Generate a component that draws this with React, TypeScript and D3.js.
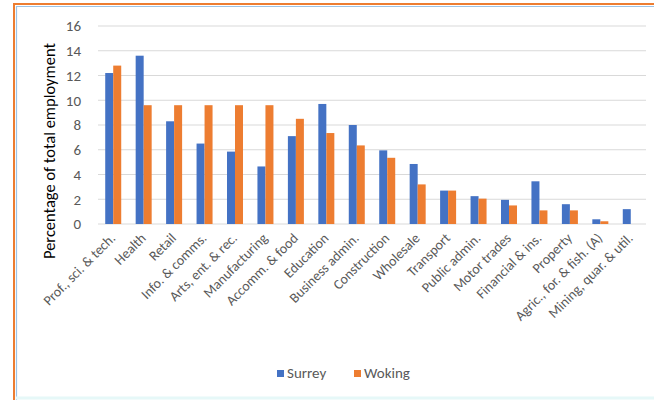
import React from 'react';
import * as d3 from 'd3';

const categories = [
  'Prof., sci. & tech.', 'Health', 'Retail', 'Info. & comms.', 'Arts, ent. & rec.',
  'Manufacturing', 'Accomm. & food', 'Education', 'Business admin.', 'Construction',
  'Wholesale', 'Transport', 'Public admin.', 'Motor trades', 'Financial & ins.',
  'Property', 'Agric., for. & fish. (A)', 'Mining, quar. & util.'
];
const seriesNames = ['Surrey', 'Woking'];
const surrey = [12.2, 13.6, 8.3, 6.5, 5.85, 4.65, 7.1, 9.7, 8.0, 5.95, 4.85, 2.7, 2.25, 1.95, 3.45, 1.6, 0.38, 1.2];
const woking = [12.8, 9.6, 9.6, 9.6, 9.6, 9.6, 8.5, 7.35, 6.35, 5.35, 3.2, 2.7, 2.05, 1.5, 1.1, 1.1, 0.22, 0];
const yTicks = [0, 2, 4, 6, 8, 10, 12, 14, 16];
const colors = ['#4472C4', '#ED7D31'];

const FONT = 'Carlito, Lato, sans-serif';
const TXT = '#595959';

export default function App() {
  const width = 654, height = 400;
  const plot = { left: 98, right: 646, top: 26, bottom: 224 };

  const x = d3.scaleBand<string>().domain(categories).range([plot.left, plot.right]);
  const xs = d3.scaleBand<string>().domain(seriesNames)
    .range([(x.bandwidth() - 16) / 2, (x.bandwidth() + 16) / 2]);
  const y = d3.scaleLinear().domain([0, 16]).range([plot.bottom, plot.top]);

  const rows = categories.map((c, i) => ({ c, vals: [surrey[i], woking[i]] }));

  return (
    <svg width={width} height={height} style={{ position: 'absolute', left: 0, top: 0, background: '#fff' }}>
      {/* frame */}
      <line x1={14} x2={14} y1={3} y2={400} stroke="#ED7D31" strokeWidth={2} />
      <line x1={13} x2={654} y1={4} y2={4} stroke="#ED7D31" strokeWidth={2} />
      <line x1={16.5} x2={16.5} y1={6} y2={400} stroke="#9DC3E6" strokeWidth={1.2} />
      <line x1={16} x2={654} y1={6.5} y2={6.5} stroke="#9DC3E6" strokeWidth={1.2} />
      <line x1={16} x2={654} y1={398} y2={398} stroke="#E6F8F8" strokeWidth={3} />

      {/* gridlines + y ticks */}
      {yTicks.map(t => (
        <g key={t}>
          <line x1={plot.left} x2={plot.right} y1={y(t)} y2={y(t)} stroke="#D9D9D9" strokeWidth={1} />
          <text x={81} y={y(t)} dy="0.35em" textAnchor="end" fontFamily={FONT} fontSize={15} fill={TXT}>{t}</text>
        </g>
      ))}

      {/* bars */}
      {rows.map(r => (
        <g key={r.c} transform={`translate(${x(r.c)},0)`}>
          {r.vals.map((v, j) => (
            <rect key={j} x={xs(seriesNames[j])} width={xs.bandwidth()} y={y(v)} height={y(0) - y(v)} fill={colors[j]} />
          ))}
        </g>
      ))}

      {/* x labels */}
      {categories.map(c => {
        const cx = (x(c) as number) + x.bandwidth() / 2 + 3;
        return (
          <text key={c} transform={`translate(${cx},239) rotate(-45)`} textAnchor="end"
            fontFamily={FONT} fontSize={14} fill={TXT}>{c}</text>
        );
      })}

      {/* y title */}
      <text transform={`translate(55,151) rotate(-90)`} textAnchor="middle" fontFamily={FONT} fontSize={16.5} fill="#000">
        Percentage of total employment
      </text>

      {/* legend */}
      {seriesNames.map((s, j) => {
        const lx = [277, 354][j];
        return (
          <g key={s}>
            <rect x={lx} y={370} width={7} height={7} fill={colors[j]} />
            <text x={lx + 10} y={378} fontFamily={FONT} fontSize={15} fill={TXT}>{s}</text>
          </g>
        );
      })}
    </svg>
  );
}
